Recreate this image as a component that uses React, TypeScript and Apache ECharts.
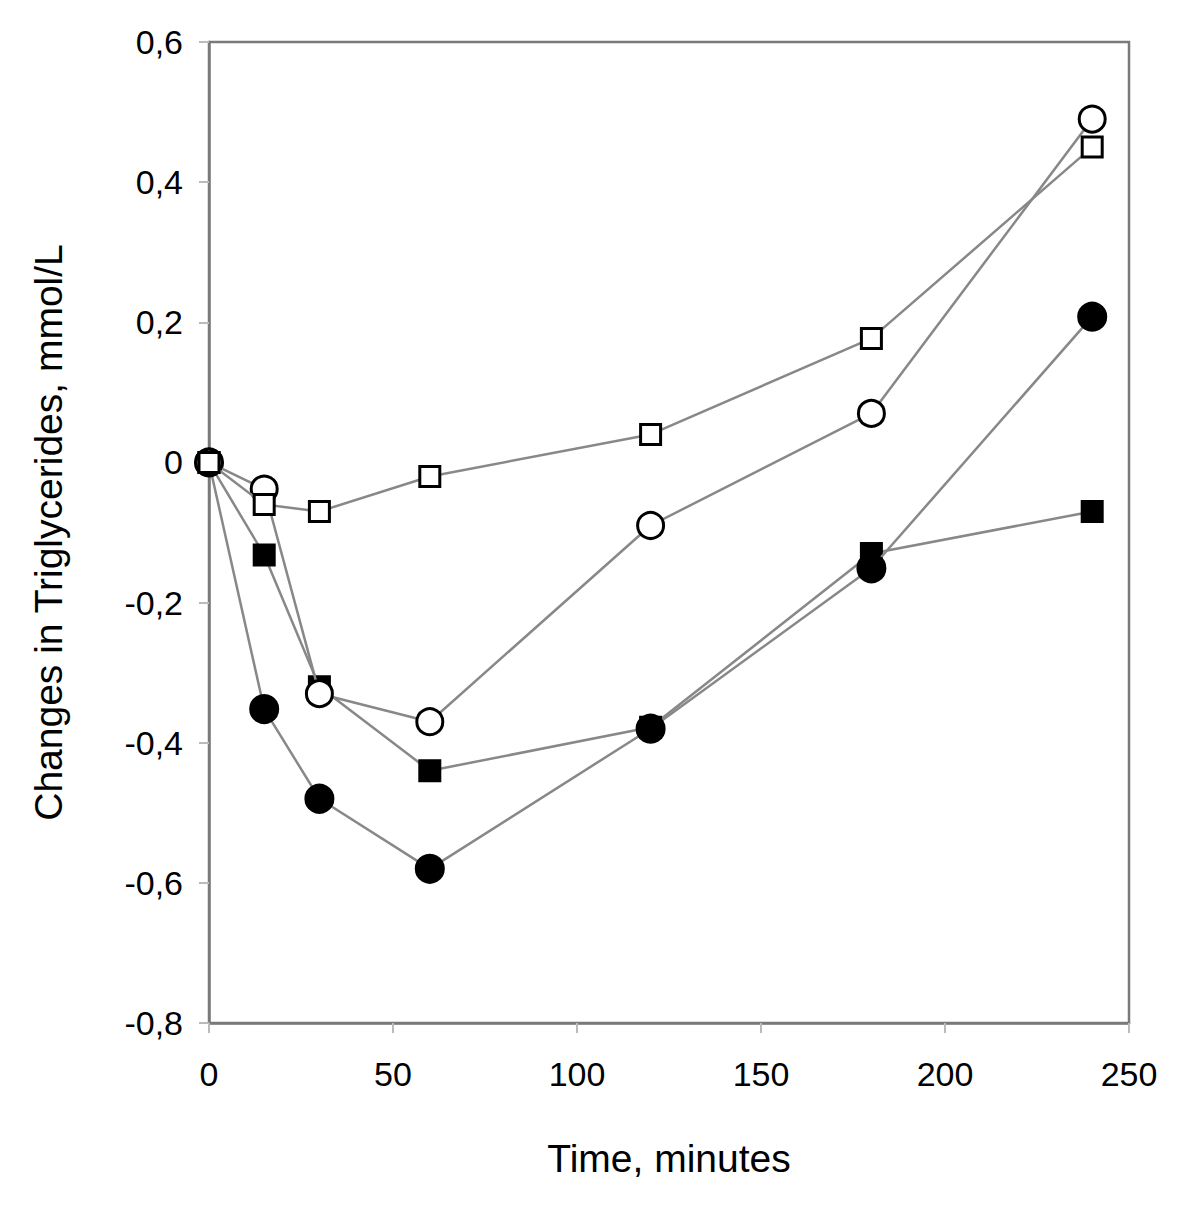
import React, { useEffect, useRef } from "react";
import * as echarts from "echarts";

const times = [0, 15, 30, 60, 120, 180, 240];
const openSquares = [0, -0.06, -0.07, -0.02, 0.04, 0.177, 0.45];
const openCircles = [0, -0.038, -0.33, -0.37, -0.09, 0.07, 0.49];
const filledSquares = [0, -0.132, -0.32, -0.44, -0.378, -0.13, -0.07];
const filledCircles = [0, -0.352, -0.48, -0.58, -0.38, -0.151, 0.208];

const xTitle = "Time, minutes";
const yTitle = "Changes in Triglycerides, mmol/L";

const FONT = "'Liberation Sans', Arial, sans-serif";

function pairs(vals: number[]) {
  return times.map((t, i) => [t, vals[i]]);
}

export default function App() {
  const ref = useRef<HTMLDivElement>(null);
  useEffect(() => {
    if (!ref.current) return;
    const chart = echarts.init(ref.current, null, { renderer: "svg" });
    const lineStyle = { color: "#888888", width: 2.5 };
    const mk = (name: string, vals: number[], symbol: string, filled: boolean, size: number, z: number) => ({
      name,
      type: "line",
      data: pairs(vals),
      symbol,
      symbolSize: size,
      showSymbol: true,
      lineStyle,
      z,
      itemStyle: {
        color: filled ? "#000000" : "#ffffff",
        borderColor: "#000000",
        borderWidth: 3,
      },
      emphasis: { disabled: true },
    });
    chart.setOption({
      animation: false,
      backgroundColor: "#ffffff",
      grid: {
        left: 201,
        right: 63,
        top: 34,
        bottom: 183,
        show: true,
        borderColor: "#7a7a7a",
        borderWidth: 2.5,
        backgroundColor: "#ffffff",
      },
      xAxis: {
        type: "value",
        min: 0,
        max: 250,
        interval: 50,
        name: xTitle,
        nameLocation: "middle",
        nameGap: 116,
        nameTextStyle: { fontSize: 39, fontFamily: FONT, color: "#000" },
        axisLine: { show: true, onZero: false, lineStyle: { color: "#7a7a7a", width: 2.5 } },
        axisTick: { show: true, length: 10, lineStyle: { color: "#bbbbbb", width: 2 } },
        axisLabel: { fontSize: 34, fontFamily: FONT, color: "#000", margin: 34 },
        splitLine: { show: false },
      },
      yAxis: {
        type: "value",
        min: -0.8,
        max: 0.6,
        interval: 0.2,
        name: yTitle,
        nameLocation: "middle",
        nameGap: 141,
        nameRotate: 90,
        nameTextStyle: { fontSize: 39, fontFamily: FONT, color: "#000" },
        axisLine: { show: true, onZero: false, lineStyle: { color: "#7a7a7a", width: 2.5 } },
        axisTick: { show: true, length: 10, lineStyle: { color: "#bbbbbb", width: 2 } },
        axisLabel: {
          fontSize: 34,
          fontFamily: FONT,
          color: "#000",
          margin: 26,
          formatter: (v: number) => (Math.abs(v) < 1e-9 ? "0" : v.toFixed(1).replace(".", ",")),
        },
        splitLine: { show: false },
      },
      series: [
        mk("Filled squares", filledSquares, "rect", true, 20, 2),
        mk("Filled circles", filledCircles, "circle", true, 27, 3),
        mk("Open circles", openCircles, "circle", false, 26, 4),
        mk("Open squares", openSquares, "rect", false, 20, 5),
      ],
    });
    return () => chart.dispose();
  }, []);
  return <div ref={ref} style={{ width: 1184, height: 1198 }} />;
}
